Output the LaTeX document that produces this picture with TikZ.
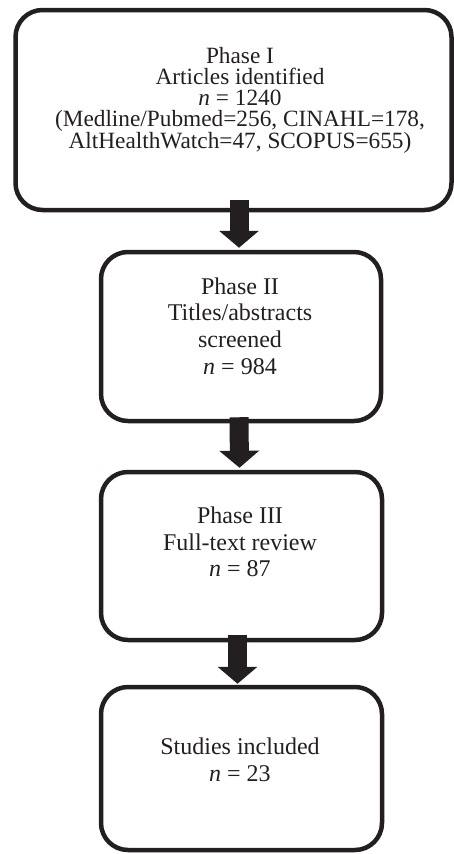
\documentclass[tikz,border=0pt]{standalone}
\usepackage{fontspec}
\setmainfont{Liberation Serif}
\usetikzlibrary{arrows.meta}
\definecolor{ink}{HTML}{231F20}
\tikzset{
  phasebox/.style={draw=ink, line width=4.5pt, rounded corners=27pt, inner sep=0pt},
  phasetext/.style={align=center, text=ink, font={\fontsize{24}{26.7}\selectfont}},
  flowarrow/.style={draw=ink, line width=19pt, -{Triangle[width=39pt,length=17pt]}}
}
\begin{document}
\begin{tikzpicture}[x=1pt,y=-1pt]
\useasboundingbox (0,0) rectangle (454,854);
% boxes
\node[phasebox, minimum width=436pt, minimum height=200pt] (p1) at (233.5,110) {};
\node[phasebox, minimum width=280pt, minimum height=169pt] (p2) at (241,336.5) {};
\node[phasebox, minimum width=281pt, minimum height=168pt] (p3) at (241.5,556) {};
\node[phasebox, minimum width=281pt, minimum height=163pt] (p4) at (241.5,768.5) {};
% texts
\node[phasetext, font={\fontsize{23.3}{21.2}\selectfont}] (t1) at (240,100) {Phase I\\Articles identified\\\textit{n} = 1240\\(Medline/Pubmed=256, CINAHL=178,\\AltHealthWatch=47, SCOPUS=655)};
\node[phasetext] (t2) at (240,326) {Phase II\\Titles/abstracts\\screened\\\textit{n} = 984};
\node[phasetext] (t3) at (240,542) {Phase III\\Full-text review\\\textit{n} = 87};
\node[phasetext] (t4) at (240,760) {Studies included\\\textit{n} = 23};
% arrows
\draw[flowarrow] ([xshift=-2pt,yshift=12pt]p1.south -| p2.north) -- ([xshift=-2pt,yshift=2pt]p2.north);
\draw[flowarrow] ([xshift=-2pt,yshift=6pt]p2.south) -- ([xshift=-2pt,yshift=2pt]p3.north);
\draw[flowarrow] ([xshift=-4pt,yshift=7pt]p3.south) -- ([xshift=-4pt,yshift=1pt]p4.north);
\end{tikzpicture}
\end{document}
